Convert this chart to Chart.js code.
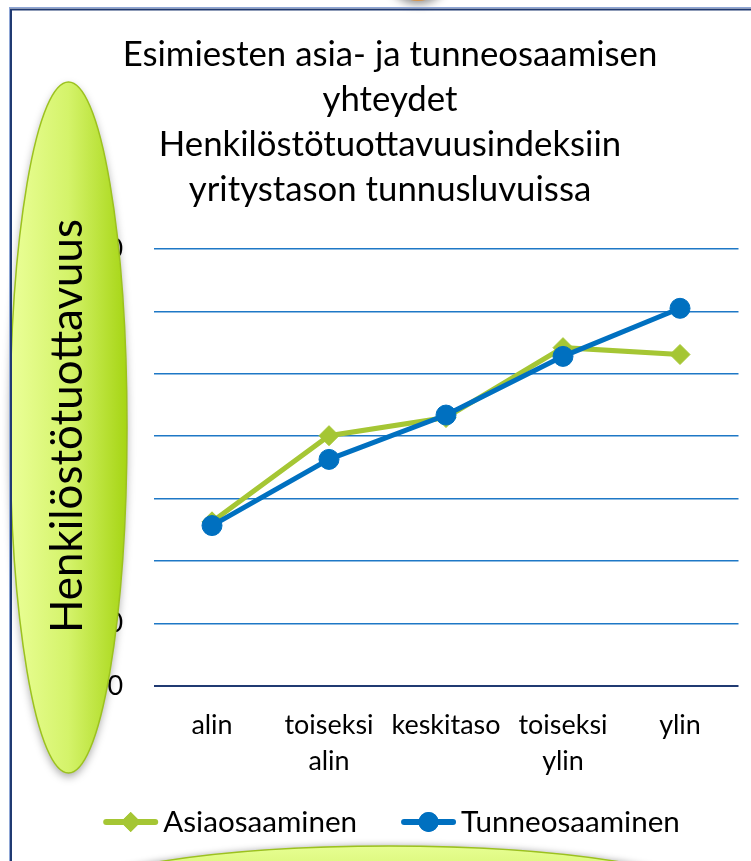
<!DOCTYPE html>
<html><head><meta charset="utf-8">
<script src="https://cdn.jsdelivr.net/npm/chart.js@4/dist/chart.umd.min.js"></script>
<style>html,body{margin:0;padding:0;background:#fff;overflow:hidden}</style>
</head><body>
<canvas id="c" width="751" height="861"></canvas>
<script>
const categories = [['alin'], ['toiseksi', 'alin'], ['keskitaso'], ['toiseksi', 'ylin'], ['ylin']];
const seriesNames = ['Asiaosaaminen', 'Tunneosaaminen'];
const asiaValues = [26.3, 40.1, 43.0, 54.2, 53.1];
const tunneValues = [25.7, 36.3, 43.4, 52.8, 60.5];
const yTicks = [0, 10, 20, 30, 40, 50, 60, 70];
const titleLines = ['Esimiesten asia- ja tunneosaamisen', 'yhteydet', 'Henkilöstötuottavuusindeksiin', 'yritystason tunnusluvuissa'];
const yAxisTitle = 'Henkilöstötuottavuus';

const GREEN = '#A5C634';
const BLUE = '#0070C0';
const FONT = 'Lato, "Open Sans", sans-serif';

const mctx = document.createElement('canvas').getContext('2d');
function fit(text, width) { mctx.font = '100px ' + FONT; return 100 * width / mctx.measureText(text).width; }
const titleSize = fit(titleLines[0], 535);
const tickSize = fit('keskitaso', 109);
const legendSize = fit(seriesNames[0], 194);
const yTitleSize = fit(yAxisTitle, 414);

const decor = {
  id: 'decor',
  beforeDraw(chart) {
    const ctx = chart.ctx;
    ctx.save();
    ctx.shadowColor = 'rgba(0,0,0,0.45)';
    ctx.shadowBlur = 10; ctx.shadowOffsetY = 3;
    ctx.beginPath(); ctx.arc(418, -30, 31, 0, Math.PI * 2);
    ctx.fillStyle = '#D8944A'; ctx.fill();
    ctx.restore();
  },
  beforeDatasetsDraw(chart) {
    const ctx = chart.ctx;
    ctx.save();
    ctx.shadowColor = 'rgba(0,0,0,0.35)';
    ctx.shadowBlur = 8; ctx.shadowOffsetY = 4;
    const g = ctx.createLinearGradient(10, 0, 127, 0);
    g.addColorStop(0, '#EBFF98'); g.addColorStop(0.5, '#D4F36A'); g.addColorStop(1, '#A6D514');
    ctx.beginPath(); ctx.ellipse(68.5, 427.5, 58.5, 345.5, 0, 0, Math.PI * 2);
    ctx.fillStyle = g; ctx.fill();
    ctx.shadowColor = 'transparent';
    ctx.lineWidth = 1.5; ctx.strokeStyle = '#9CC21E'; ctx.stroke();
    ctx.restore();
    ctx.save();
    ctx.translate(82, 426);
    ctx.rotate(-Math.PI / 2);
    ctx.fillStyle = '#000';
    ctx.font = yTitleSize + 'px ' + FONT;
    ctx.textAlign = 'center'; ctx.textBaseline = 'alphabetic';
    ctx.fillText(yAxisTitle, 0, 0);
    ctx.restore();
  },
  afterDraw(chart) {
    const ctx = chart.ctx;
    ctx.save();
    ctx.shadowColor = 'rgba(0,0,0,0.3)'; ctx.shadowBlur = 6; ctx.shadowOffsetY = -1;
    const g = ctx.createLinearGradient(0, 844, 0, 970);
    g.addColorStop(0, '#E8FF94'); g.addColorStop(1, '#A6D514');
    ctx.beginPath(); ctx.ellipse(389, 908, 345, 62, 0, 0, Math.PI * 2);
    ctx.fillStyle = g; ctx.fill();
    ctx.shadowColor = 'transparent';
    ctx.lineWidth = 1.5; ctx.strokeStyle = '#9CC21E'; ctx.stroke();
    ctx.restore();
    ctx.save();
    ctx.strokeStyle = '#8EA6D6'; ctx.lineWidth = 1;
    ctx.strokeRect(9.5, 7.5, 900, 1000);
    ctx.strokeStyle = '#203A72'; ctx.lineWidth = 2;
    ctx.strokeRect(11, 9.5, 900, 1000);
    ctx.restore();
    const cy = 822;
    ctx.save();
    ctx.font = legendSize + 'px ' + FONT;
    const w1 = ctx.measureText(seriesNames[0]).width;
    const w2 = ctx.measureText(seriesNames[1]).width;
    const lineW = 55, gapT = 5, gapI = 44;
    const total = lineW + gapT + w1 + gapI + lineW + gapT + w2;
    let x = 391.5 - total / 2;
    const items = [
      { name: seriesNames[0], color: GREEN, style: 'rectRot', w: w1 },
      { name: seriesNames[1], color: BLUE, style: 'circle', w: w2 }
    ];
    items.forEach(it => {
      ctx.strokeStyle = it.color; ctx.lineWidth = 6; ctx.lineCap = 'round';
      ctx.beginPath(); ctx.moveTo(x + 3, cy); ctx.lineTo(x + lineW - 3, cy); ctx.stroke();
      ctx.fillStyle = it.color;
      Chart.helpers.drawPoint(ctx, { pointStyle: it.style, radius: 10, borderWidth: 0 }, x + lineW / 2, cy);
      ctx.fill();
      ctx.fillStyle = '#000'; ctx.textAlign = 'left'; ctx.textBaseline = 'middle';
      ctx.fillText(it.name, x + lineW + gapT, cy);
      x += lineW + gapT + it.w + gapI;
    });
    ctx.restore();
  }
};

new Chart(document.getElementById('c'), {
  type: 'line',
  data: {
    labels: categories,
    datasets: [
      { label: seriesNames[0], data: asiaValues, borderColor: GREEN, backgroundColor: GREEN,
        pointStyle: 'rectRot', pointRadius: 10, pointBackgroundColor: GREEN, pointBorderColor: GREEN,
        pointBorderWidth: 1, borderWidth: 5, tension: 0, order: 1 },
      { label: seriesNames[1], data: tunneValues, borderColor: BLUE, backgroundColor: BLUE,
        pointStyle: 'circle', pointRadius: 10, pointBackgroundColor: BLUE, pointBorderColor: BLUE,
        pointBorderWidth: 1, borderWidth: 5, tension: 0, order: 0 }
    ]
  },
  options: {
    responsive: false, animation: false, devicePixelRatio: 1,
    layout: { padding: { left: 41.5, right: 12.5, top: 10, bottom: 82 } },
    plugins: {
      legend: { display: false },
      tooltip: { enabled: false },
      title: { display: true, text: titleLines, color: '#000',
        font: { family: FONT, size: titleSize, weight: 'normal', lineHeight: '45px' },
        padding: { top: 22.5, bottom: 36.5 } }
    },
    scales: {
      x: { offset: true,
        afterFit: s => { s.height = 93; },
        grid: { display: false, drawTicks: false, tickLength: 0 },
        border: { display: false },
        ticks: { color: '#000', font: { family: FONT, size: tickSize, lineHeight: '36px' },
          padding: 21, maxRotation: 0, minRotation: 0, autoSkip: false } },
      y: { min: 0, max: 70,
        afterBuildTicks: s => { s.ticks = yTicks.map(v => ({ value: v })); },
        afterFit: s => { s.width = 112; },
        grid: { drawTicks: false, tickLength: 0,
          color: c => (c.tick && c.tick.value === 0) ? '#203A72' : '#1E78C6',
          lineWidth: c => (c.tick && c.tick.value === 0) ? 2 : 1.6 },
        border: { display: false },
        ticks: { padding: 30.5, color: '#000', font: { family: FONT, size: tickSize } } }
    }
  },
  plugins: [decor]
});
</script>
</body></html>
